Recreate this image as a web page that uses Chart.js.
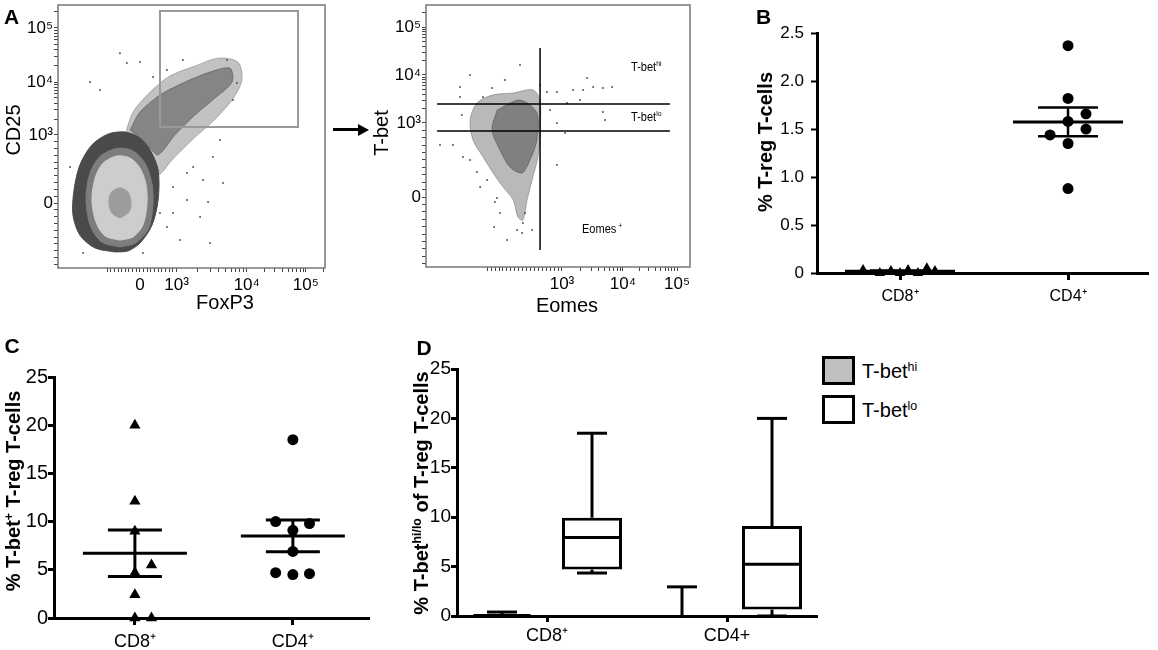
<!DOCTYPE html>
<html>
<head>
<meta charset="utf-8">
<script src="https://cdn.jsdelivr.net/npm/chart.js@4.4.1/dist/chart.umd.min.js"></script>
<style>
  body { margin: 0; background: #fff; }
  #fig { position: relative; width: 1158px; height: 650px; overflow: hidden;
         font-family: 'Liberation Sans', Arial, Helvetica, sans-serif; color: #000; }
  #fig canvas { position: absolute; }
  .t { position: absolute; white-space: nowrap; line-height: 1; }
  .ctr { transform: translate(-50%, -50%); }
  .rot { transform: translate(-50%, -50%) rotate(-90deg); }
  .midy { transform: translateY(-50%); }
  .sup { font-size: 0.62em; vertical-align: 0.55em; }
  .letter { font-weight: bold; font-size: 21px; }
  .ytitle { font-weight: bold; font-size: 20px; }
  .atitle { font-size: 20px; }
  .gate { font-size: 13px; transform: translateY(-50%) scaleX(0.85); transform-origin: left center; }
  .lbox { position: absolute; width: 33px; height: 29px; border: 3px solid #000; box-sizing: border-box; }
</style>
</head>
<body>
<div id="fig">
  <canvas id="chartA1"></canvas>
  <canvas id="chartA2"></canvas>
  <canvas id="chartB"></canvas>
  <canvas id="chartC"></canvas>
  <canvas id="chartD"></canvas>

  <div class="t letter ctr" style="left:11.5px;top:16px">A</div>
  <div class="t letter ctr" style="left:763.5px;top:16px">B</div>
  <div class="t letter ctr" style="left:12px;top:345px">C</div>
  <div class="t letter ctr" style="left:424px;top:347px">D</div>

  <div class="t atitle rot" style="left:12.5px;top:130px">CD25</div>
  <div class="t atitle ctr" style="left:225px;top:301.5px">FoxP3</div>
  <div class="t atitle rot" style="left:380.5px;top:133px">T-bet</div>
  <div class="t atitle ctr" style="left:567px;top:305px">Eomes</div>

  <div class="t gate" style="left:631px;top:66px">T-bet<span class="sup">hi</span></div>
  <div class="t gate" style="left:631px;top:116px">T-bet<span class="sup">lo</span></div>
  <div class="t gate" style="left:582px;top:228px">Eomes<span class="sup"> +</span></div>

  <div style="position:absolute;left:333px;top:128px;width:27px;height:3px;background:#000"></div>
  <div style="position:absolute;left:358px;top:123.5px;width:0;height:0;border-left:11px solid #000;border-top:6px solid transparent;border-bottom:6px solid transparent"></div>

  <div class="t ytitle rot" style="left:765px;top:141.5px">% T-reg T-cells</div>
  <div class="t ytitle rot" style="left:12.5px;top:491px">% T-bet<span class="sup">+</span> T-reg T-cells</div>
  <div class="t ytitle rot" style="left:420.5px;top:492.5px">% T-bet<span class="sup">hi/lo</span> of T-reg T-cells</div>

  <div class="lbox" style="left:822px;top:356px;background:#c0c0c0"></div>
  <div class="lbox" style="left:822px;top:395px;background:#fff"></div>
  <div class="t atitle midy" style="left:862px;top:371px">T-bet<span class="sup">hi</span></div>
  <div class="t atitle midy" style="left:862px;top:410px">T-bet<span class="sup">lo</span></div>
</div>

<script>
// ---- data -----------------------------------------------------------------
// flow plots use the display (channel) scale 0-100 on both axes
const flowTickLabels = ['0', '10³', '10⁴', '10⁵'];
const a2XTickLabels = ['', '10³', '10⁴', '10⁵'];
const a1XTickPos = [30.7, 44.4, 70.7, 92.8];
const a1YTickPos = [24.7, 50.6, 70.7, 91.3];
const a2XTickPos = [36.6, 51.5, 74.6, 95.1];
const a2YTickPos = [26.7, 55.0, 73.3, 91.6];

// A left: CD25 vs FoxP3 density regions and outlying events
const a1Tail = [[25.1,50.6],[28.1,59.3],[34.5,66.9],[41.9,73.0],[51.3,76.8],[59.9,79.8],[67.4,78.3],
  [68.9,71.5],[65.2,63.9],[57.7,55.5],[50.2,48.7],[42.7,41.1],[37.5,35.4],[34.5,41.1]];
const a1TailCore = [[27.0,52.5],[30.7,59.3],[38.2,65.8],[47.6,70.7],[56.9,74.5],[64.4,76.0],[65.2,70.7],
  [58.8,64.6],[51.3,58.2],[43.8,50.6],[37.5,43.0],[34.5,45.6]];
const a1Outer = [[21.3,6.1],[13.9,7.6],[8.2,12.5],[5.6,20.2],[6.0,29.7],[8.2,39.2],[12.7,46.8],[18.7,50.9],
  [25.1,51.7],[30.7,49.4],[34.5,44.9],[37.5,37.3],[37.5,25.9],[35.2,16.3],[30.7,9.5],[26.2,6.5]];
const a1Mid = [[23.2,8.0],[16.5,9.8],[12.2,15.8],[10.5,25.9],[11.8,35.5],[15.5,42.2],[22.1,45.5],
  [28.0,44.6],[32.5,40.0],[35.2,32.0],[35.5,23.5],[33.8,14.8],[29.0,9.5]];
const a1Light = [[23.2,10.6],[17.6,12.2],[14.2,17.5],[12.7,25.9],[13.9,34.2],[16.9,39.9],[22.1,42.6],
  [27.0,41.8],[30.7,38.0],[33.0,31.6],[33.3,24.0],[31.8,16.3],[28.1,11.8]];
const a1Core = [[23.2,19.0],[20.2,20.9],[19.1,24.7],[19.8,28.5],[22.8,30.4],[25.8,29.3],[27.3,25.5],[26.6,21.3]];
const a1Events = [[23.2,81.7],[12.0,70.7],[25.8,77.9],[30.7,78.3],[15.7,67.7],[4.5,38.4],[61.8,32.3],
  [56.2,25.1],[56.9,9.5],[45.7,10.6],[53.2,19.4],[48.3,25.9],[43.1,30.8],[50.6,38.4],[58.0,42.2],
  [65.5,63.9],[67.0,70.3],[63.3,79.1],[46.8,79.1],[35.6,72.6],[40.8,75.3],[31.8,5.7],[9.4,5.7],
  [38.2,20.9],[40.8,15.6],[43.1,20.9],[48.3,36.1],[54.3,33.5],[60.7,48.7],[64.4,53.6]];
const a1Gate = [[38.2,53.6],[38.2,97.7],[89.9,97.7],[89.9,53.6]];

// A right: T-bet vs Eomes of gated T-regs
const a2Cloud = [[33.0,66.4],[40.5,67.6],[43.2,63.7],[43.2,51.1],[42.4,42.0],[40.2,33.2],[38.3,25.6],
  [36.7,17.9],[34.8,19.1],[33.0,25.6],[29.2,30.5],[25.4,35.9],[21.6,42.0],[17.8,48.5],[16.7,56.1],
  [19.3,62.6],[25.4,65.7]];
const a2Dense = [[26.9,59.9],[35.6,63.7],[42.0,58.8],[42.0,48.5],[39.4,40.8],[36.4,35.9],[31.8,38.2],
  [28.0,44.7],[25.0,52.3]];
const a2Events = [[12.9,68.7],[16.7,73.3],[29.9,71.4],[35.6,77.1],[25.0,68.3],[13.6,58.0],[14.0,42.0],
  [19.3,36.3],[23.1,33.2],[26.1,24.8],[25.8,15.3],[30.7,10.3],[34.5,14.1],[37.5,20.6],[40.2,14.1],
  [45.8,66.8],[49.6,66.8],[55.7,67.6],[59.5,67.6],[63.3,68.7],[67.0,68.3],[70.5,68.7],[61.0,72.1],
  [58.3,63.7],[53.4,62.6],[47.0,59.9],[49.6,55.0],[52.7,51.1],[67.0,59.2],[67.8,56.1],[49.6,38.9],
  [10.2,46.6],[12.9,64.9],[5.3,46.6],[16.7,40.8],[20.5,30.5],[28.0,20.6],[36.4,13.0],[36.7,16.8],
  [26.9,26.3],[43.2,69.5],[21.6,64.9]];
const a2EomesGate = [[43.2,6.5],[43.2,83.6]];
const a2HiGate = [[4.2,62.2],[92.4,62.2]];
const a2LoGate = [[4.2,51.9],[92.4,51.9]];

// B: % T-reg of CD8+ / CD4+
const groupLabels = ['CD8⁺', 'CD4⁺'];
const bCD8 = [0.03, 0.0, 0.02, 0.0, 0.03, 0.0, 0.05, 0.02];
const bCD8Jitter = [-0.22, -0.12, -0.054, 0, 0.048, 0.107, 0.16, 0.208];
const bCD4 = [2.37, 1.82, 1.66, 1.58, 1.50, 1.44, 1.35, 0.88];
const bCD4Jitter = [0, 0, 0.107, 0, 0.107, -0.107, 0, 0];

// C: % T-bet+ of T-regs
const cCD8 = [20.0, 12.1, 9.0, 4.7, 5.5, 2.4, 0, 0];
const cCD8Jitter = [0, 0, 0, 0, 0.105, 0, 0, 0.105];
const cCD4 = [18.5, 10.0, 9.8, 9.1, 6.9, 4.7, 4.5, 4.6];
const cCD4Jitter = [0, -0.109, 0.105, 0, 0, -0.109, 0, 0.105];

// D: box plots of T-bet hi / lo
const dLabels = ['CD8⁺', 'CD4+'];
const dHiMin = [0, 0], dHiQ1 = [0, 0], dHiMed = [0.05, 0], dHiQ3 = [0.1, 0], dHiMax = [0.4, 2.95];
const dLoMin = [4.35, 0], dLoQ1 = [4.7, 0.65], dLoMed = [7.95, 5.25], dLoQ3 = [9.95, 9.1], dLoMax = [18.5, 20.0];

// ---- layout ---------------------------------------------------------------
Chart.defaults.font.family = "'Liberation Sans', Arial, Helvetica, sans-serif";
Chart.defaults.color = '#000';
Chart.defaults.animation = false;
Chart.defaults.events = [];
Chart.defaults.plugins.legend.display = false;
Chart.defaults.plugins.tooltip.enabled = false;

function place(id, area, leftW, topPad, rightPad, bottomH) {
  const cv = document.getElementById(id);
  const w = area.r - area.l + leftW + rightPad;
  const h = area.b - area.t + topPad + bottomH;
  cv.style.left = (area.l - leftW) + 'px';
  cv.style.top = (area.t - topPad) + 'px';
  cv.style.width = w + 'px';
  cv.style.height = h + 'px';
  cv.width = w; cv.height = h;
  return cv;
}

// log-like tick marks for the biexponential flow axes
function logicleTicks(pos, max) {
  const [zero, d3, d4, d5] = pos;
  const out = pos.slice();
  const lin = d3 - zero;
  for (let k = 1; k < 10; k++) { out.push(zero + lin * k / 10); out.push(zero - lin * k / 10); }
  const w1 = d4 - d3, w2 = d5 - d4;
  for (let k = 2; k < 10; k++) {
    out.push(d3 + w1 * Math.log10(k));
    out.push(d4 + w2 * Math.log10(k));
    if (d5 + w2 * Math.log10(k) < max) out.push(d5 + w2 * Math.log10(k));
  }
  return out.filter(v => v > 0).sort((a, b) => a - b);
}

function flowAxis(pos, labels, isX, size) {
  return {
    type: 'linear', min: 0, max: 100,
    afterBuildTicks: s => { s.ticks = logicleTicks(pos, 100).map(v => ({ value: v })); },
    afterFit: s => { if (isX) s.height = size; else s.width = size; },
    ticks: {
      autoSkip: false, maxRotation: 0, minRotation: 0, padding: isX ? 3 : 1,
      font: { size: 17 }, color: '#000',
      callback: v => { const i = pos.findIndex(p => Math.abs(p - v) < 1e-6); return i < 0 ? '' : labels[i]; }
    },
    grid: { drawOnChartArea: false, drawTicks: true, tickLength: 4, tickWidth: 1, tickColor: '#444' },
    border: { display: false }
  };
}

const framePlugin = {
  id: 'frame',
  afterDraw(chart) {
    const a = chart.chartArea, ctx = chart.ctx;
    ctx.save(); ctx.strokeStyle = '#777'; ctx.lineWidth = 1.5;
    ctx.strokeRect(a.left, a.top, a.right - a.left, a.bottom - a.top);
    ctx.restore();
  }
};

function region(points, color, order, tension) {
  return {
    type: 'line', data: points.concat([points[0]]), fill: 'shape',
    backgroundColor: color, borderColor: color, borderWidth: 1,
    pointRadius: 0, tension: tension, order: order, clip: false
  };
}
function gateLine(points, color, width, order) {
  return {
    type: 'line', data: points, fill: false, borderColor: color, borderWidth: width,
    pointRadius: 0, tension: 0, order: order
  };
}
function events(points, order) {
  return { type: 'scatter', data: points, pointRadius: 1, backgroundColor: '#555', borderWidth: 0, order: order };
}

// ---- A left ----
new Chart(place('chartA1', { l: 58, t: 5, r: 325, b: 268 }, 45, 12, 6, 30), {
  type: 'scatter',
  data: { datasets: [
    region(a1Tail, 'rgba(80,80,80,0.35)', 8, 0.3),
    region(a1TailCore, 'rgba(60,60,60,0.45)', 7, 0.3),
    region(a1Outer, '#4a4a4a', 6, 0.3),
    region(a1Mid, '#7d7d7d', 5, 0.3),
    region(a1Light, '#cdcdcd', 4, 0.3),
    region(a1Core, '#9c9c9c', 3, 0.3),
    events(a1Events, 2),
    gateLine(a1Gate.concat([a1Gate[0]]), '#9a9a9a', 2, 1)
  ]},
  options: {
    responsive: false, maintainAspectRatio: false,
    layout: { padding: { top: 12, right: 6, left: 0, bottom: 0 } },
    scales: { x: flowAxis(a1XTickPos, flowTickLabels, true, 30), y: flowAxis(a1YTickPos, flowTickLabels, false, 45) }
  },
  plugins: [framePlugin]
});

// ---- A right ----
new Chart(place('chartA2', { l: 426, t: 5, r: 690, b: 267 }, 45, 12, 6, 30), {
  type: 'scatter',
  data: { datasets: [
    region(a2Cloud, 'rgba(100,100,100,0.45)', 6, 0.3),
    region(a2Dense, 'rgba(60,60,60,0.45)', 5, 0.3),
    events(a2Events, 4),
    gateLine(a2EomesGate, '#000', 1.5, 1),
    gateLine(a2HiGate, '#000', 1.5, 1),
    gateLine(a2LoGate, '#000', 1.5, 1)
  ]},
  options: {
    responsive: false, maintainAspectRatio: false,
    layout: { padding: { top: 12, right: 6, left: 0, bottom: 0 } },
    scales: { x: flowAxis(a2XTickPos, a2XTickLabels, true, 30), y: flowAxis(a2YTickPos, flowTickLabels, false, 45) }
  },
  plugins: [framePlugin]
});

// ---- dot plots with mean +/- SEM ----
function meanSemPlugin(groups, style) {
  return {
    id: 'meanSem',
    afterDatasetsDraw(chart) {
      const { ctx, scales: { x, y } } = chart;
      const seg = (x1, y1, x2, y2) => { ctx.beginPath(); ctx.moveTo(x1, y1); ctx.lineTo(x2, y2); ctx.stroke(); };
      ctx.save(); ctx.strokeStyle = '#000';
      groups.forEach(g => {
        const n = g.values.length;
        const mean = g.values.reduce((a, b) => a + b, 0) / n;
        const sd = Math.sqrt(g.values.reduce((a, b) => a + (b - mean) * (b - mean), 0) / (n - 1));
        const sem = sd / Math.sqrt(n);
        const cx = x.getPixelForValue(g.at);
        const ym = y.getPixelForValue(mean), yt = y.getPixelForValue(mean + sem), yb = y.getPixelForValue(mean - sem);
        ctx.lineWidth = style.meanWidth;
        seg(cx - style.meanHalf, ym, cx + style.meanHalf, ym);
        ctx.lineWidth = style.semWidth;
        seg(cx, yt, cx, yb);
        seg(cx - style.semHalf, yt, cx + style.semHalf, yt);
        seg(cx - style.semHalf, yb, cx + style.semHalf, yb);
      });
      ctx.restore();
    }
  };
}

function dotAxes(xMin, xMax, yMax, yStep, yFmt, yFont, xFont, leftW, bottomH, yTickW, xPad, yPad) {
  return {
    x: {
      type: 'linear', min: xMin, max: xMax,
      afterBuildTicks: s => { s.ticks = [{ value: 1 }, { value: 2 }]; },
      afterFit: s => { s.height = bottomH; },
      ticks: { autoSkip: false, maxRotation: 0, padding: xPad, font: { size: xFont },
               callback: v => groupLabels[v - 1] },
      grid: { drawOnChartArea: false, tickLength: 7, tickWidth: 3, tickColor: '#000' },
      border: { display: true, color: '#000', width: 3 }
    },
    y: {
      min: 0, max: yMax,
      afterFit: s => { s.width = leftW; },
      ticks: { stepSize: yStep, padding: yPad, font: { size: yFont }, callback: yFmt },
      grid: { drawOnChartArea: false, tickLength: 6, tickWidth: yTickW, tickColor: '#000' },
      border: { display: true, color: '#000', width: 3 }
    }
  };
}

function dots(values, jitter, at, style, r) {
  return {
    data: values.map((v, i) => ({ x: at + jitter[i], y: v })),
    pointStyle: style, pointRadius: r, backgroundColor: '#000', borderColor: '#000', borderWidth: 0, clip: false
  };
}

// ---- B ----
new Chart(place('chartB', { l: 817, t: 32, r: 1148, b: 273 }, 60, 16, 6, 34), {
  type: 'scatter',
  data: { datasets: [ dots(bCD8, bCD8Jitter, 1, 'triangle', 6), dots(bCD4, bCD4Jitter, 2, 'circle', 5.5) ] },
  options: {
    responsive: false, maintainAspectRatio: false,
    layout: { padding: { top: 16, right: 6, left: 0, bottom: 0 } },
    scales: dotAxes(0.506, 2.476, 2.5, 0.5, v => (v === 0 ? '0' : v.toFixed(1)), 17, 16, 60, 34, 2, 7, 7)
  },
  plugins: [meanSemPlugin([{ at: 1, values: bCD8 }, { at: 2, values: bCD4 }],
                          { meanHalf: 55, semHalf: 30, meanWidth: 3, semWidth: 2.5 })]
});

// ---- C ----
new Chart(place('chartC', { l: 54, t: 377, r: 370, b: 618 }, 50, 16, 6, 34), {
  type: 'scatter',
  data: { datasets: [ dots(cCD8, cCD8Jitter, 1, 'triangle', 6.5), dots(cCD4, cCD4Jitter, 2, 'circle', 5.5) ] },
  options: {
    responsive: false, maintainAspectRatio: false,
    layout: { padding: { top: 16, right: 6, left: 0, bottom: 0 } },
    scales: dotAxes(0.488, 2.485, 25, 5, v => String(v), 20, 18, 50, 34, 3, 6, 0)
  },
  plugins: [meanSemPlugin([{ at: 1, values: cCD8 }, { at: 2, values: cCD4 }],
                          { meanHalf: 52, semHalf: 27, meanWidth: 3, semWidth: 3 })]
});

// ---- D: box and whiskers ----
function boxWhiskerPlugin(stats) {
  return {
    id: 'boxWhiskers',
    afterDatasetsDraw(chart) {
      const ctx = chart.ctx, y = chart.scales.y;
      const seg = (x1, y1, x2, y2) => { ctx.beginPath(); ctx.moveTo(x1, y1); ctx.lineTo(x2, y2); ctx.stroke(); };
      const py = v => y.getPixelForValue(v);
      ctx.save(); ctx.strokeStyle = '#000'; ctx.lineWidth = 3;
      stats.forEach((s, di) => {
        chart.getDatasetMeta(di).data.forEach((bar, i) => {
          const cx = bar.x, hw = bar.width / 2, cw = bar.width / 4;
          if (s.max[i] > s.q3[i]) { seg(cx, py(s.q3[i]), cx, py(s.max[i])); seg(cx - cw, py(s.max[i]), cx + cw, py(s.max[i])); }
          if (s.min[i] < s.q1[i]) { seg(cx, py(s.q1[i]), cx, py(s.min[i])); seg(cx - cw, py(s.min[i]), cx + cw, py(s.min[i])); }
          if (s.q3[i] > s.q1[i]) seg(cx - hw + 1.5, py(s.med[i]), cx + hw - 1.5, py(s.med[i]));
        });
      });
      ctx.restore();
    }
  };
}

new Chart(place('chartD', { l: 457, t: 369, r: 817, b: 616 }, 40, 16, 4, 30), {
  type: 'bar',
  data: {
    labels: dLabels,
    datasets: [
      { label: 'T-bet hi', data: dHiQ1.map((v, i) => [v, dHiQ3[i]]), backgroundColor: '#c0c0c0',
        borderColor: '#000', borderWidth: 3, borderSkipped: false },
      { label: 'T-bet lo', data: dLoQ1.map((v, i) => [v, dLoQ3[i]]), backgroundColor: '#fff',
        borderColor: '#000', borderWidth: 3, borderSkipped: false }
    ]
  },
  options: {
    responsive: false, maintainAspectRatio: false,
    barPercentage: 0.667, categoryPercentage: 1.0,
    layout: { padding: { top: 16, right: 4, left: 0, bottom: 0 } },
    scales: {
      x: {
        afterFit: s => { s.height = 30; },
        ticks: { padding: 3, font: { size: 18 } },
        grid: { offset: false, drawOnChartArea: false, tickLength: 6, tickWidth: 3, tickColor: '#000' },
        border: { display: true, color: '#000', width: 3 }
      },
      y: {
        min: 0, max: 25,
        afterFit: s => { s.width = 40; },
        ticks: { stepSize: 5, padding: 0, font: { size: 19 } },
        grid: { drawOnChartArea: false, tickLength: 6, tickWidth: 3, tickColor: '#000' },
        border: { display: true, color: '#000', width: 3 }
      }
    }
  },
  plugins: [boxWhiskerPlugin([
    { min: dHiMin, q1: dHiQ1, med: dHiMed, q3: dHiQ3, max: dHiMax },
    { min: dLoMin, q1: dLoQ1, med: dLoMed, q3: dLoQ3, max: dLoMax }
  ])]
});
</script>
</body>
</html>
